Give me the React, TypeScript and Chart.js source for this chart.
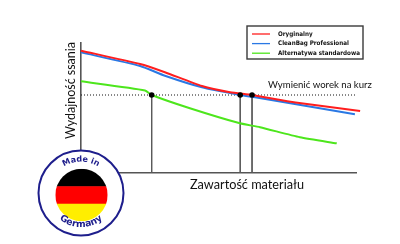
import { useEffect, useRef } from "react";
import { Chart, registerables } from "chart.js";

Chart.register(...registerables);

// Series: suction performance (0–100) against material fill level (0–100)
const seriesNames = ["Oryginalny", "CleanBag Professional", "Alternatywa standardowa"];
const seriesColors = ["#ff1e1e", "#2a78e4", "#4de61c"];

const oryginalnyX = [0, 21.5, 30.5, 44, 54.2, 62.2, 78, 101.5];
const oryginalnyY = [94.1, 83.8, 77.5, 66.9, 62.1, 60, 54.3, 47.7];

const cleanBagX = [0, 21.5, 30.5, 44, 57.9, 63.3, 99.6];
const cleanBagY = [92.8, 82.3, 74.8, 65.9, 60, 58.2, 45.2];

const alternatywaX = [0, 23.3, 25.7, 39.6, 57.8, 65.1, 79.6, 93];
const alternatywaY = [70.5, 63.5, 60, 49.8, 38.2, 35.2, 27.5, 22.8];

// Replacement threshold and where each series crosses it
const thresholdY = 60;
const thresholdLabel = "Wymienić worek na kurz";
const crossingX = [25.7, 57.9, 62.2];

const xTitle = "Zawartość materiału";
const yTitle = "Wydajność ssania";
const badgeTop = "Made in";
const badgeBottom = "Germany";

const toPoints = (xs: number[], ys: number[]) => xs.map((x, i) => ({ x, y: ys[i] }));

function fitFont(ctx: CanvasRenderingContext2D, text: string, weight: string, family: string, target: number) {
  ctx.font = `${weight} 20px ${family}`;
  const w = ctx.measureText(text).width;
  const size = (20 * target) / w;
  ctx.font = `${weight} ${size.toFixed(2)}px ${family}`;
  return size;
}

function arcText(
  ctx: CanvasRenderingContext2D,
  text: string,
  cx: number,
  cy: number,
  r: number,
  top: boolean
) {
  const total = ctx.measureText(text).width / r;
  const center = top ? -Math.PI / 2 : Math.PI / 2;
  let acc = 0;
  ctx.textAlign = "center";
  ctx.textBaseline = "alphabetic";
  for (const ch of text) {
    const w = ctx.measureText(ch).width;
    const ang = top
      ? center - total / 2 + (acc + w / 2) / r
      : center + total / 2 - (acc + w / 2) / r;
    ctx.save();
    ctx.translate(cx + r * Math.cos(ang), cy + r * Math.sin(ang));
    ctx.rotate(top ? ang + Math.PI / 2 : ang - Math.PI / 2);
    ctx.fillText(ch, 0, 0);
    ctx.restore();
    acc += w;
  }
}

const overlay = {
  id: "overlay",
  afterDraw(chart: Chart) {
    const { ctx, chartArea: a } = chart;
    const yScale = chart.scales.y;
    const yThr = yScale.getPixelForValue(thresholdY);
    ctx.save();

    // axis titles
    ctx.fillStyle = "#111";
    ctx.textAlign = "center";
    ctx.textBaseline = "alphabetic";
    ctx.save();
    ctx.translate(a.left - 6, a.top + 47.5);
    ctx.rotate(-Math.PI / 2);
    fitFont(ctx, yTitle, "normal", "Lato, sans-serif", 97);
    ctx.fillText(yTitle, 0, 0);
    ctx.restore();

    fitFont(ctx, xTitle, "normal", "Lato, sans-serif", 114);
    ctx.fillText(xTitle, a.left + 166, a.bottom + 16);

    // threshold label
    ctx.textAlign = "left";
    fitFont(ctx, thresholdLabel, "normal", "Lato, sans-serif", 104);
    ctx.fillText(thresholdLabel, a.left + 187, yThr - 7);

    // legend box
    const lx = a.right - 109;
    const ly = a.top - 17;
    ctx.fillStyle = "#fff";
    ctx.fillRect(lx, ly, 116, 33);
    ctx.strokeStyle = "#3a3a3a";
    ctx.lineWidth = 1.4;
    ctx.strokeRect(lx, ly, 116, 33);
    const legendFamily = '"DejaVu Sans Condensed", "Liberation Sans Narrow", sans-serif';
    ctx.fillStyle = "#111";
    fitFont(ctx, seriesNames[2], "bold", legendFamily, 82);
    ctx.textBaseline = "middle";
    seriesNames.forEach((name, i) => {
      const rowY = ly + 8 + i * 9.6;
      ctx.strokeStyle = seriesColors[i];
      ctx.lineWidth = 1.3;
      ctx.beginPath();
      ctx.moveTo(lx + 5, rowY);
      ctx.lineTo(lx + 23, rowY);
      ctx.stroke();
      ctx.fillText(name, lx + 31, rowY);
    });

    // "Made in Germany" badge
    const bx = a.left;
    const by = a.bottom + 20;
    ctx.beginPath();
    ctx.arc(bx, by, 42.5, 0, Math.PI * 2);
    ctx.fillStyle = "#fff";
    ctx.fill();
    ctx.strokeStyle = "#1e1e8c";
    ctx.lineWidth = 2;
    ctx.stroke();

    const fx = bx + 0.5;
    const fy = by + 2;
    const fr = 26.2;
    ctx.save();
    ctx.beginPath();
    ctx.arc(fx, fy, fr, 0, Math.PI * 2);
    ctx.clip();
    const band = (2 * fr) / 3;
    ctx.fillStyle = "#000";
    ctx.fillRect(fx - fr, fy - fr, 2 * fr, band + 0.5);
    ctx.fillStyle = "#ff0000";
    ctx.fillRect(fx - fr, fy - fr + band, 2 * fr, band + 0.5);
    ctx.fillStyle = "#ffee00";
    ctx.fillRect(fx - fr, fy - fr + 2 * band, 2 * fr, band);
    ctx.restore();

    ctx.fillStyle = "#1e1e8c";
    fitFont(ctx, badgeTop, "bold", '"DejaVu Sans", sans-serif', 36);
    arcText(ctx, badgeTop, bx, by, 31.5, true);
    fitFont(ctx, badgeBottom, "bold", '"DejaVu Sans", sans-serif', 47);
    arcText(ctx, badgeBottom, bx, by, 34, false);

    ctx.restore();
  },
};

export default function App() {
  const canvasRef = useRef<HTMLCanvasElement | null>(null);

  useEffect(() => {
    const canvas = canvasRef.current;
    if (!canvas) return;

    const dropLines = crossingX.map((x) => ({
      data: [
        { x, y: thresholdY },
        { x, y: 0 },
      ],
      borderColor: "#5a5a5a",
      borderWidth: 1,
      pointRadius: 0,
      tension: 0,
      order: 6,
    }));

    const chart = new Chart(canvas, {
      type: "line",
      data: {
        datasets: [
          {
            label: "markers",
            data: crossingX.map((x) => ({ x, y: thresholdY })),
            showLine: false,
            pointRadius: 2.8,
            pointBackgroundColor: "#000",
            pointBorderWidth: 0,
            order: 0,
          },
          {
            label: seriesNames[0],
            data: toPoints(oryginalnyX, oryginalnyY),
            borderColor: seriesColors[0],
            borderWidth: 2,
            pointRadius: 0,
            order: 1,
          },
          {
            label: seriesNames[1],
            data: toPoints(cleanBagX, cleanBagY),
            borderColor: seriesColors[1],
            borderWidth: 2,
            pointRadius: 0,
            order: 2,
          },
          {
            label: seriesNames[2],
            data: toPoints(alternatywaX, alternatywaY),
            borderColor: seriesColors[2],
            borderWidth: 2,
            pointRadius: 0,
            order: 3,
          },
          {
            label: "threshold",
            data: [
              { x: 0, y: thresholdY },
              { x: 100, y: thresholdY },
            ],
            borderColor: "#111",
            borderWidth: 1,
            borderDash: [1, 2],
            pointRadius: 0,
            tension: 0,
            order: 5,
          },
          ...dropLines,
        ],
      },
      options: {
        responsive: false,
        animation: false,
        clip: false,
        layout: { autoPadding: false, padding: { left: 81, right: 44, top: 43, bottom: 71 } },
        plugins: { legend: { display: false }, tooltip: { enabled: false } },
        elements: { line: { tension: 0.2 } },
        scales: {
          x: {
            type: "linear",
            min: 0,
            max: 100,
            grid: { display: false, drawTicks: false },
            ticks: { display: false },
            border: { display: true, color: "#555", width: 1.6 },
          },
          y: {
            type: "linear",
            min: 0,
            max: 100,
            grid: { display: false, drawTicks: false },
            ticks: { display: false },
            border: { display: true, color: "#555", width: 1.6 },
          },
        },
      },
      plugins: [overlay],
    });

    return () => chart.destroy();
  }, []);

  return (
    <div style={{ position: "fixed", left: 0, top: 0, width: 400, height: 244, background: "#fff" }}>
      <canvas ref={canvasRef} width={400} height={244} />
    </div>
  );
}
